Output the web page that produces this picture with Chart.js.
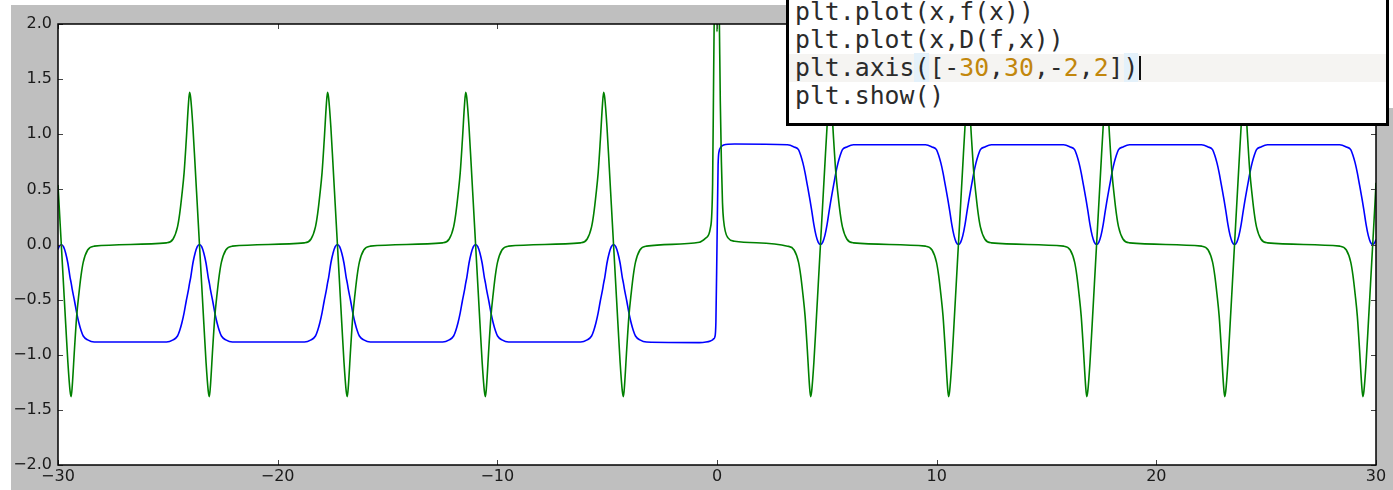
<!DOCTYPE html>
<html>
<head>
<meta charset="utf-8">
<script src="https://cdn.jsdelivr.net/npm/chart.js@4/dist/chart.umd.min.js"></script>
<style>
  html, body { margin: 0; padding: 0; background: #fff; width: 1393px; height: 490px; overflow: hidden; }
  .fig { position: absolute; left: 11px; top: 5px; right: 0; bottom: 0; background: #bfbfbf; }
  .patch { position: absolute; left: 1389px; top: 0; width: 4px; height: 108px; background: #fff; }
  #chart { position: absolute; left: 0; top: 0; }
  .code { position: absolute; left: 786px; top: -3px; width: 603px; height: 129px; box-sizing: border-box;
          border: 3px solid #000; background: #fff; overflow: hidden; }
  .line { position: absolute; left: 0; right: 0; height: 28px; line-height: 28px; padding-left: 6px;
          font-family: "DejaVu Sans Mono", monospace; font-size: 24.8px; color: #2b2b2b; white-space: pre; }
  .cur-line { background: #f5f4f2; }
  .n { color: #c2870d; }
  .br { background: #e4f1fa; }
  .cursor { display: inline-block; width: 0; height: 24px; border-left: 2px solid #111; vertical-align: -4px; margin-left: 1px; }
</style>
</head>
<body>
<div class="fig"></div>
<div class="patch"></div>
<canvas id="chart" width="1393" height="490"></canvas>
<div class="code">
  <div class="line" style="top:-2px">plt.plot(x,f(x))</div>
  <div class="line" style="top:26px">plt.plot(x,D(f,x))</div>
  <div class="line cur-line" style="top:54px">plt.axis<span class="br">(</span>[-<span class="n">30</span>,<span class="n">30</span>,-<span class="n">2</span>,<span class="n">2</span>]<span class="br">)</span><span class="cursor"></span></div>
  <div class="line" style="top:82px">plt.show()</div>
</div>
<script>
// x positions (denser around the bumps)
const xValues = [
  -30, -29.95, -29.85, -29.75, -29.65, -29.55, -29.45, -29.4, -29.35, -29.25, -29.15, -29.05, -28.95, -28.85, -28.65, -28.35,
  -25.06, -24.76, -24.56, -24.46, -24.36, -24.26, -24.16, -24.06, -24.01, -23.96, -23.86, -23.76, -23.66, -23.56, -23.46, -23.36, -23.26, -23.16, -23.11, -23.06, -22.96, -22.86, -22.76, -22.66, -22.56, -22.36, -22.06,
  -18.78, -18.48, -18.28, -18.18, -18.08, -17.98, -17.88, -17.78, -17.73, -17.68, -17.58, -17.48, -17.38, -17.28, -17.18, -17.08, -16.98, -16.88, -16.83, -16.78, -16.68, -16.58, -16.48, -16.38, -16.28, -16.08, -15.78,
  -12.49, -12.19, -11.99, -11.89, -11.79, -11.69, -11.59, -11.49, -11.44, -11.39, -11.29, -11.19, -11.09, -10.99, -10.89, -10.79, -10.69, -10.59, -10.54, -10.49, -10.39, -10.29, -10.19, -10.09, -9.99, -9.79, -9.49,
  -6.21, -5.91, -5.71, -5.61, -5.51, -5.41, -5.31, -5.21, -5.16, -5.11, -5.01, -4.91, -4.81, -4.71, -4.61, -4.51, -4.41, -4.31, -4.26, -4.21, -4.11, -4.01, -3.91, -3.81, -3.71, -3.51, -3.21,
  -0.8, -0.5, -0.3, -0.2, -0.15, -0.1, -0.05, 0, 0.05, 0.1, 0.15, 0.2, 0.25, 0.3, 0.5, 0.8,
  3.21, 3.51, 3.71, 3.81, 3.91, 4.01, 4.11, 4.21, 4.26, 4.31, 4.41, 4.51, 4.61, 4.71, 4.81, 4.91, 5.01, 5.11, 5.16, 5.21, 5.31, 5.41, 5.51, 5.61, 5.71, 5.91, 6.21,
  9.49, 9.79, 9.99, 10.09, 10.19, 10.29, 10.39, 10.49, 10.54, 10.59, 10.69, 10.79, 10.89, 10.99, 11.09, 11.19, 11.29, 11.39, 11.44, 11.49, 11.59, 11.69, 11.79, 11.89, 11.99, 12.19, 12.49,
  15.78, 16.08, 16.28, 16.38, 16.48, 16.58, 16.68, 16.78, 16.83, 16.88, 16.98, 17.08, 17.18, 17.28, 17.38, 17.48, 17.58, 17.68, 17.73, 17.78, 17.88, 17.98, 18.08, 18.18, 18.28, 18.48, 18.78,
  22.06, 22.36, 22.56, 22.66, 22.76, 22.86, 22.96, 23.06, 23.11, 23.16, 23.26, 23.36, 23.46, 23.56, 23.66, 23.76, 23.86, 23.96, 24.01, 24.06, 24.16, 24.26, 24.36, 24.46, 24.56, 24.76, 25.06,
  28.35, 28.65, 28.85, 28.95, 29.05, 29.15, 29.25, 29.35, 29.4, 29.45, 29.55, 29.65, 29.75, 29.85, 29.95, 30
];

// blue line, f(x)
const fValues = [
  -0.045, -0.02, 0, -0.02, -0.08, -0.17, -0.30, -0.35, -0.41, -0.51, -0.62, -0.71, -0.78, -0.83, -0.865, -0.885,
  -0.885, -0.865, -0.83, -0.78, -0.71, -0.62, -0.51, -0.41, -0.35, -0.30, -0.17, -0.08, -0.02, 0, -0.02, -0.08, -0.17, -0.30, -0.35, -0.41, -0.51, -0.62, -0.71, -0.78, -0.83, -0.865, -0.885,
  -0.885, -0.865, -0.83, -0.78, -0.71, -0.62, -0.51, -0.41, -0.35, -0.30, -0.17, -0.08, -0.02, 0, -0.02, -0.08, -0.17, -0.30, -0.35, -0.41, -0.51, -0.62, -0.71, -0.78, -0.83, -0.865, -0.885,
  -0.885, -0.865, -0.83, -0.78, -0.71, -0.62, -0.51, -0.41, -0.35, -0.30, -0.17, -0.08, -0.02, 0, -0.02, -0.08, -0.17, -0.30, -0.35, -0.41, -0.51, -0.62, -0.71, -0.78, -0.83, -0.865, -0.885,
  -0.885, -0.865, -0.83, -0.78, -0.71, -0.62, -0.51, -0.41, -0.35, -0.30, -0.17, -0.08, -0.02, 0, -0.02, -0.08, -0.17, -0.30, -0.35, -0.41, -0.51, -0.62, -0.71, -0.78, -0.83, -0.865, -0.885,
  -0.89, -0.885, -0.875, -0.865, -0.855, -0.84, -0.7, 0, 0.72, 0.85, 0.875, 0.89, 0.897, 0.902, 0.91, 0.912,
  0.905, 0.885, 0.86, 0.81, 0.74, 0.65, 0.54, 0.43, 0.37, 0.31, 0.18, 0.08, 0.02, 0, 0.02, 0.08, 0.18, 0.31, 0.37, 0.43, 0.54, 0.65, 0.74, 0.81, 0.86, 0.885, 0.905,
  0.905, 0.885, 0.86, 0.81, 0.74, 0.65, 0.54, 0.43, 0.37, 0.31, 0.18, 0.08, 0.02, 0, 0.02, 0.08, 0.18, 0.31, 0.37, 0.43, 0.54, 0.65, 0.74, 0.81, 0.86, 0.885, 0.905,
  0.905, 0.885, 0.86, 0.81, 0.74, 0.65, 0.54, 0.43, 0.37, 0.31, 0.18, 0.08, 0.02, 0, 0.02, 0.08, 0.18, 0.31, 0.37, 0.43, 0.54, 0.65, 0.74, 0.81, 0.86, 0.885, 0.905,
  0.905, 0.885, 0.86, 0.81, 0.74, 0.65, 0.54, 0.43, 0.37, 0.31, 0.18, 0.08, 0.02, 0, 0.02, 0.08, 0.18, 0.31, 0.37, 0.43, 0.54, 0.65, 0.74, 0.81, 0.86, 0.885, 0.905,
  0.905, 0.885, 0.86, 0.81, 0.74, 0.65, 0.54, 0.43, 0.37, 0.31, 0.18, 0.08, 0.02, 0, 0.02, 0.045
];

// green line, D(f,x)
const dfValues = [
  0.54, 0.36, 0, -0.36, -0.72, -1.07, -1.33, -1.38, -1.28, -0.95, -0.65, -0.45, -0.28, -0.16, -0.05, -0.015,
  0.015, 0.05, 0.16, 0.28, 0.45, 0.65, 0.95, 1.28, 1.38, 1.33, 1.07, 0.72, 0.36, 0, -0.36, -0.72, -1.07, -1.33, -1.38, -1.28, -0.95, -0.65, -0.45, -0.28, -0.16, -0.05, -0.015,
  0.015, 0.05, 0.16, 0.28, 0.45, 0.65, 0.95, 1.28, 1.38, 1.33, 1.07, 0.72, 0.36, 0, -0.36, -0.72, -1.07, -1.33, -1.38, -1.28, -0.95, -0.65, -0.45, -0.28, -0.16, -0.05, -0.015,
  0.015, 0.05, 0.16, 0.28, 0.45, 0.65, 0.95, 1.28, 1.38, 1.33, 1.07, 0.72, 0.36, 0, -0.36, -0.72, -1.07, -1.33, -1.38, -1.28, -0.95, -0.65, -0.45, -0.28, -0.16, -0.05, -0.015,
  0.015, 0.05, 0.16, 0.28, 0.45, 0.65, 0.95, 1.28, 1.38, 1.33, 1.07, 0.72, 0.36, 0, -0.36, -0.72, -1.07, -1.33, -1.38, -1.28, -0.95, -0.65, -0.45, -0.28, -0.16, -0.05, -0.015,
  0.02, 0.06, 0.15, 0.55, 1.6, 2.5, 2.7, 1.93, 2.7, 2.15, 1.3, 0.75, 0.38, 0.22, 0.06, 0.03,
  -0.015, -0.05, -0.16, -0.28, -0.45, -0.65, -0.95, -1.28, -1.38, -1.33, -1.07, -0.72, -0.36, 0, 0.36, 0.72, 1.07, 1.33, 1.38, 1.28, 0.95, 0.65, 0.45, 0.28, 0.16, 0.05, 0.015,
  -0.015, -0.05, -0.16, -0.28, -0.45, -0.65, -0.95, -1.28, -1.38, -1.33, -1.07, -0.72, -0.36, 0, 0.36, 0.72, 1.07, 1.33, 1.38, 1.28, 0.95, 0.65, 0.45, 0.28, 0.16, 0.05, 0.015,
  -0.015, -0.05, -0.16, -0.28, -0.45, -0.65, -0.95, -1.28, -1.38, -1.33, -1.07, -0.72, -0.36, 0, 0.36, 0.72, 1.07, 1.33, 1.38, 1.28, 0.95, 0.65, 0.45, 0.28, 0.16, 0.05, 0.015,
  -0.015, -0.05, -0.16, -0.28, -0.45, -0.65, -0.95, -1.28, -1.38, -1.33, -1.07, -0.72, -0.36, 0, 0.36, 0.72, 1.07, 1.33, 1.38, 1.28, 0.95, 0.65, 0.45, 0.28, 0.16, 0.05, 0.015,
  -0.015, -0.05, -0.16, -0.28, -0.45, -0.65, -0.95, -1.28, -1.38, -1.33, -1.07, -0.72, -0.36, 0, 0.36, 0.56
];

const xTicks = [-30, -20, -10, 0, 10, 20, 30];
const xTickLabels = ['\u221230', '\u221220', '\u221210', '0', '10', '20', '30'];
const yTicks = [-2, -1.5, -1, -0.5, 0, 0.5, 1, 1.5, 2];
const yTickLabels = ['\u22122.0', '\u22121.5', '\u22121.0', '\u22120.5', '0.0', '0.5', '1.0', '1.5', '2.0'];

function toPoints(ys) {
    return xValues.map((x, i) => ({ x: x, y: ys[i] }));
}

// white axes background, black frame and inward tick marks like matplotlib
const axesFrame = {
    id: 'axesFrame',
    beforeDatasetsDraw(chart) {
        const a = chart.chartArea;
        const ctx = chart.ctx;
        ctx.save();
        ctx.fillStyle = '#fff';
        ctx.fillRect(a.left, a.top, a.right - a.left, a.bottom - a.top);
        ctx.restore();
    },
    afterDatasetsDraw(chart) {
        const a = chart.chartArea;
        const ctx = chart.ctx;
        const xs = chart.scales.x;
        const ys = chart.scales.y;
        const len = 5;
        ctx.save();
        ctx.strokeStyle = '#444';
        ctx.lineWidth = 1;
        ctx.beginPath();
        xTicks.forEach(v => {
            const px = Math.round(xs.getPixelForValue(v)) + 0.5;
            ctx.moveTo(px, a.bottom); ctx.lineTo(px, a.bottom - len);
            ctx.moveTo(px, a.top); ctx.lineTo(px, a.top + len);
        });
        yTicks.forEach(v => {
            const py = Math.round(ys.getPixelForValue(v)) + 0.5;
            ctx.moveTo(a.left, py); ctx.lineTo(a.left + len, py);
            ctx.moveTo(a.right, py); ctx.lineTo(a.right - len, py);
        });
        ctx.stroke();
        ctx.strokeStyle = '#000';
        ctx.lineWidth = 1.5;
        ctx.strokeRect(a.left, a.top, a.right - a.left, a.bottom - a.top);
        ctx.restore();
    }
};

const tickFont = { family: 'DejaVu Sans', size: 16 };

new Chart(document.getElementById('chart'), {
    type: 'scatter',
    data: {
        datasets: [
            {
                label: 'D(f,x)',
                data: toPoints(dfValues),
                showLine: true,
                borderColor: '#008000',
                borderWidth: 1.6,
                pointRadius: 0,
                cubicInterpolationMode: 'monotone',
                order: 1
            },
            {
                label: 'f(x)',
                data: toPoints(fValues),
                showLine: true,
                borderColor: '#0000ff',
                borderWidth: 1.6,
                pointRadius: 0,
                cubicInterpolationMode: 'monotone',
                order: 2
            }
        ]
    },
    options: {
        responsive: false,
        animation: false,
        events: [],
        layout: { padding: { left: 0, top: 24, right: 17, bottom: 0 } },
        plugins: { legend: { display: false }, tooltip: { enabled: false } },
        scales: {
            x: {
                type: 'linear',
                min: -30,
                max: 30,
                afterBuildTicks: s => { s.ticks = xTicks.map(v => ({ value: v })); },
                afterFit: s => { s.height = 25; },
                grid: { display: false, drawTicks: false },
                border: { display: false },
                ticks: {
                    autoSkip: false,
                    maxRotation: 0,
                    padding: 2,
                    color: '#1a1a1a',
                    font: tickFont,
                    callback: (v, i) => xTickLabels[i]
                }
            },
            y: {
                type: 'linear',
                min: -2,
                max: 2,
                afterBuildTicks: s => { s.ticks = yTicks.map(v => ({ value: v })); },
                afterFit: s => { s.width = 58; },
                grid: { display: false, drawTicks: false },
                border: { display: false },
                ticks: {
                    autoSkip: false,
                    padding: 6,
                    color: '#1a1a1a',
                    font: tickFont,
                    callback: (v, i) => yTickLabels[i]
                }
            }
        }
    },
    plugins: [axesFrame]
});
</script>
</body>
</html>
